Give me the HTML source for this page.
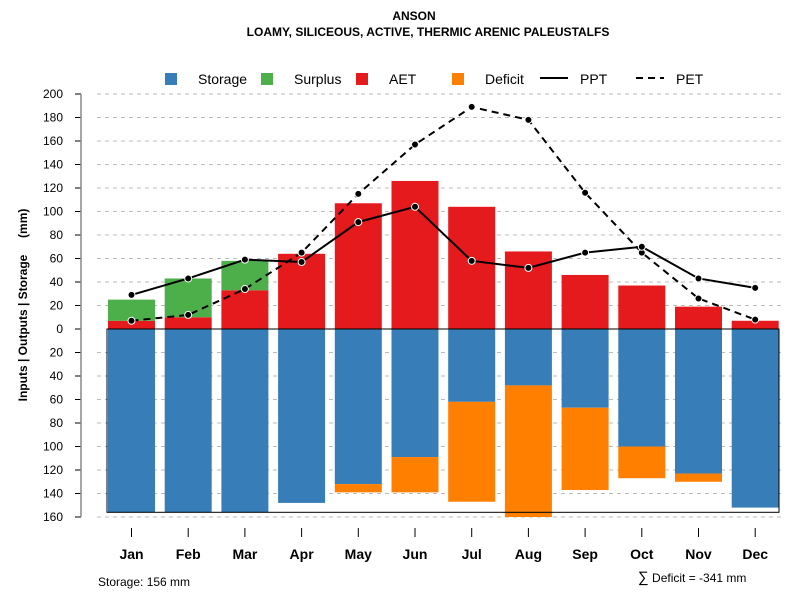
<!DOCTYPE html>
<html><head><meta charset="utf-8"><style>
body{margin:0;background:#fff}
svg text{font-family:"Liberation Sans",Arial,sans-serif}
</style></head><body>
<svg id="c" width="800" height="600" xmlns="http://www.w3.org/2000/svg">
<text x="414" y="20" text-anchor="middle" font-size="12" font-weight="bold">ANSON</text>
<text x="428" y="36" text-anchor="middle" font-size="12" font-weight="bold">LOAMY, SILICEOUS, ACTIVE, THERMIC ARENIC PALEUSTALFS</text>
<g id="grid"></g>
<g id="bars"></g>
<g id="lines"></g>
<g id="axes"></g>
<text transform="translate(27,305) rotate(-90)" text-anchor="middle" font-size="12" font-weight="bold" style="white-space:pre">Inputs | Outputs | Storage     (mm)</text>
<g>
<rect x="165" y="73" width="12" height="12" fill="#377eb8"/><text x="198" y="84" font-size="14">Storage</text>
<rect x="261" y="73" width="12" height="12" fill="#4daf4a"/><text x="294" y="84" font-size="14">Surplus</text>
<rect x="356" y="73" width="12" height="12" fill="#e41a1c"/><text x="389" y="84" font-size="14">AET</text>
<rect x="452" y="73" width="12" height="12" fill="#ff7f00"/><text x="485" y="84" font-size="14">Deficit</text>
<line x1="540" y1="78" x2="568" y2="78" stroke="#000" stroke-width="2"/><text x="580" y="84" font-size="14">PPT</text>
<line x1="636" y1="78" x2="664" y2="78" stroke="#000" stroke-width="2" stroke-dasharray="7,5"/><text x="676" y="84" font-size="14">PET</text>
</g>
<text x="98" y="586" font-size="12">Storage: 156 mm</text>
<text x="638" y="582" font-size="12"><tspan font-size="15">∑</tspan> Deficit = -341 mm</text>
</svg>
<script>
const months=["Jan","Feb","Mar","Apr","May","Jun","Jul","Aug","Sep","Oct","Nov","Dec"];
const aet=[7,10,33,64,107,126,104,66,46,37,19,7];
const surplus=[18,33,25,0,0,0,0,0,0,0,0,0];
const storage=[156,156,156,148,132,109,62,48,67,100,123,152];
const deficit=[0,0,0,0,7,30,85,112,70,27,7,0];
const ppt=[29,43,59,57,91,104,58,52,65,70,43,35];
const pet=[7,12,34,65,115,157,189,178,116,65,26,8];
const yTicks=[200,180,160,140,120,100,80,60,40,20,0,20,40,60,80,100,120,140,160];
const storageCap=156;
const NS="http://www.w3.org/2000/svg";
const y0=329,k=1.175;
const y=v=>y0-v*k;
const xc=i=>131.5+i*56.7;
const bw=47;
function mk(tag,attrs,parent){const e=document.createElementNS(NS,tag);for(const a in attrs)e.setAttribute(a,attrs[a]);document.getElementById(parent).appendChild(e);return e;}
yTicks.forEach((t,i)=>{const v=i<=10?t:-t;const yy=y(v);
 if(v!==0){const g=mk('line',{x1:97,x2:783,y1:yy,y2:yy,stroke:'#bbb','stroke-dasharray':'4,4'},'grid');
 
 }
 const tk=mk('line',{x1:75,x2:81,y1:yy,y2:yy,stroke:'#000'},'axes');
 
 
 const tx=mk('text',{x:63,y:yy+4,'text-anchor':'end','font-size':12},'axes');tx.textContent=t;
 
 
});
const ax=mk('line',{x1:81,x2:81,y1:y(200),y2:y(-160),stroke:'#888','stroke-width':1.5},'axes');


months.forEach((m,i)=>{const x=xc(i)-bw/2;
 const r1=mk('rect',{x:x,y:y(aet[i]),width:bw,height:aet[i]*k,fill:'#e41a1c'},'bars');
 
 
 if(surplus[i]>0){const r2=mk('rect',{x:x,y:y(aet[i]+surplus[i]),width:bw,height:surplus[i]*k,fill:'#4daf4a'},'bars');
 
 }
 const r3=mk('rect',{x:x,y:y0,width:bw,height:storage[i]*k,fill:'#377eb8'},'bars');
 
 
 if(deficit[i]>0){const r4=mk('rect',{x:x,y:y(-storage[i]),width:bw,height:deficit[i]*k,fill:'#ff7f00'},'bars');
 
 }
 const tk=mk('line',{x1:xc(i),x2:xc(i),y1:528,y2:537,stroke:'#000'},'axes');
 
 
 const tx=mk('text',{x:xc(i),y:559,'text-anchor':'middle','font-size':14,'font-weight':'bold'},'axes');tx.textContent=m;
 
 
});
const box=mk('rect',{x:107,y:y0,width:672,height:storageCap*k,fill:'none',stroke:'#000'},'bars');


function series(vals,name,dash){
 const p=mk('polyline',{points:vals.map((v,i)=>xc(i)+','+y(v)).join(' '),fill:'none',stroke:'#000','stroke-width':2,'stroke-dasharray':dash},'lines');
 
 
 vals.forEach((v,i)=>{const c=mk('circle',{cx:xc(i),cy:y(v),r:3.5,fill:'#000',stroke:'#fff','stroke-width':1},'lines');
 
 });
}
series(pet,'pet','7,5');
series(ppt,'ppt','none');
</script>
</body></html>
